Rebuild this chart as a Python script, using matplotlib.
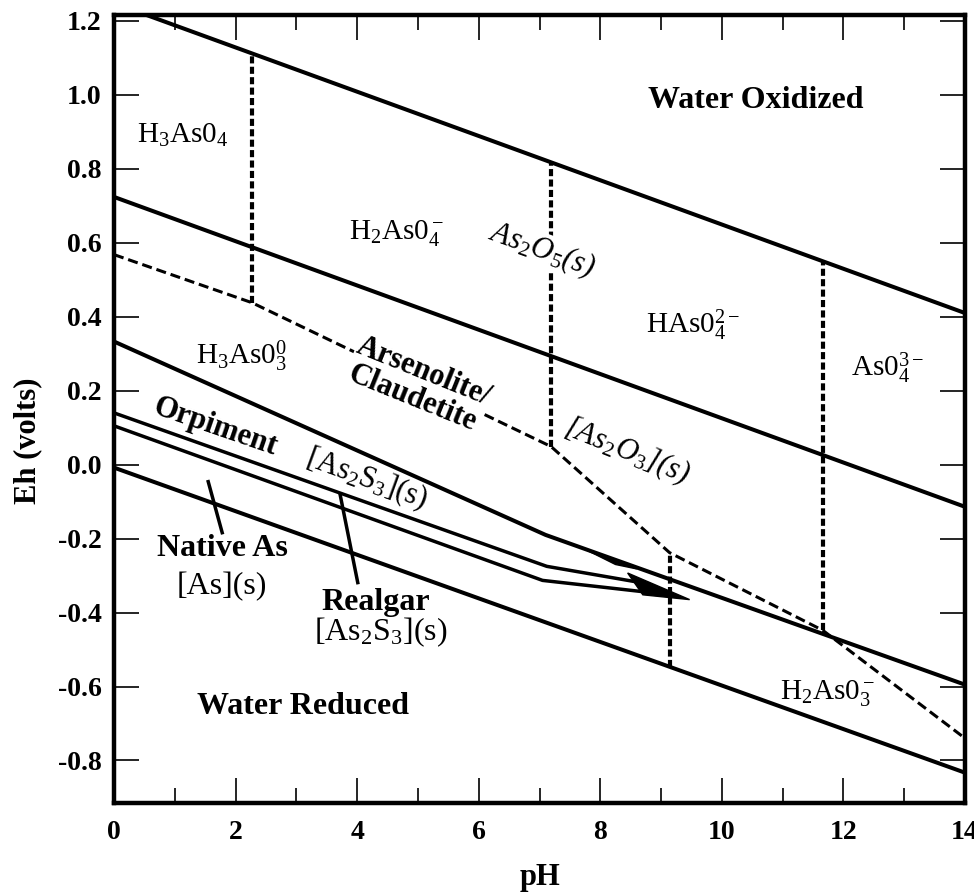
import matplotlib
matplotlib.use('Agg')
import matplotlib.pyplot as plt

plt.rcParams['font.family'] = ['Liberation Serif', 'DejaVu Serif']
plt.rcParams['mathtext.fontset'] = 'custom'
plt.rcParams['mathtext.rm'] = 'Liberation Serif'
plt.rcParams['mathtext.it'] = 'Liberation Serif:italic'
plt.rcParams['mathtext.bf'] = 'Liberation Serif:bold'

# boundary lines (pH, Eh volts)
water_ox_ph = [0, 14]
water_ox_eh = [1.248, 0.41]
h2aso4_ph = [0, 14]
h2aso4_eh = [0.724, -0.114]
h3aso3_ph = [0, 7.1, 14]
h3aso3_eh = [0.333, -0.19, -0.595]
orpiment_ph = [0, 7.12, 8.7]
orpiment_eh = [0.14, -0.275, -0.32]
realgar_ph = [0, 7.05, 9.05]
realgar_eh = [0.105, -0.313, -0.35]
water_red_ph = [0, 14]
water_red_eh = [-0.008, -0.833]

# arsenolite / claudetite boundary (dashed)
arsenolite_ph = [0, 2.27, 7.19, 9.14, 11.66, 14]
arsenolite_eh = [0.568, 0.438, 0.049, -0.238, -0.448, -0.74]

# vertical dashed boundaries
vert_ph = [2.27, 7.19, 9.14, 11.66]
vert_top = [1.112, 0.818, -0.238, 0.55]
vert_bot = [0.438, 0.049, -0.546, -0.448]

# arrow heads / wedges
arrow_ph = [8.45, 9.47, 8.7]
arrow_eh = [-0.293, -0.365, -0.352]
wedge_ph = [7.75, 8.6, 8.25]
wedge_eh = [-0.229, -0.282, -0.27]

# pointer lines
native_ptr_ph = [1.55, 1.78]
native_ptr_eh = [-0.046, -0.184]
realgar_ptr_ph = [3.72, 4.01]
realgar_ptr_eh = [-0.081, -0.319]

y_ticks = [-0.8, -0.6, -0.4, -0.2, 0.0, 0.2, 0.4, 0.6, 0.8, 1.0, 1.2]
y_labels = ['-0.8', '-0.6', '-0.4', '-0.2', '0.0', '0.2', '0.4', '0.6', '0.8', '1.0', '1.2']
x_ticks = [0, 2, 4, 6, 8, 10, 12, 14]
x_minor = [1, 3, 5, 7, 9, 11, 13]

fig = plt.figure(figsize=(9.74, 8.92), dpi=100)
ax = fig.add_axes([114 / 974, 1 - 803 / 892, (965 - 114) / 974, (803 - 15) / 892])

solid = dict(color='black', lw=2.9, solid_capstyle='butt', solid_joinstyle='miter')
ax.plot(water_ox_ph, water_ox_eh, **solid)
ax.plot(h2aso4_ph, h2aso4_eh, **solid)
ax.plot(h3aso3_ph, h3aso3_eh, **solid)
ax.plot(water_red_ph, water_red_eh, **solid)
ax.plot(orpiment_ph, orpiment_eh, color='black', lw=2.5)
ax.plot(realgar_ph, realgar_eh, color='black', lw=2.5)
ax.fill(arrow_ph, arrow_eh, color='black', lw=1)
ax.fill(wedge_ph, wedge_eh, color='black', lw=1)
ax.plot(native_ptr_ph, native_ptr_eh, color='black', lw=2.5)
ax.plot(realgar_ptr_ph, realgar_ptr_eh, color='black', lw=2.5)

ax.plot(arsenolite_ph, arsenolite_eh, color='black', lw=2.2, linestyle=(0, (3.3, 1.6)))
for p, t, b in zip(vert_ph, vert_top, vert_bot):
    ax.plot([p, p], [b, t], color='black', lw=3, linestyle=(0, (1.7, 0.8)))

ax.set_xlim(0, 14)
ax.set_ylim(-0.915, 1.216)

# labels
reg = dict(fontsize=21, color='black', zorder=5)
ax.text(0.38, 0.89, r'H$_3$As0$_4$', ha='left', va='center', **reg)
ax.text(4.64, 0.627, r'H$_2$As0$_4^-$', ha='center', va='center', **reg)
ax.text(9.52, 0.378, r'HAs0$_4^{2-}$', ha='center', va='center', **reg)
ax.text(12.73, 0.262, r'As0$_4^{3-}$', ha='center', va='center', **reg)
ax.text(2.09, 0.292, r'H$_3$As0$_3^0$', ha='center', va='center', **reg)
ax.text(11.73, -0.617, r'H$_2$As0$_3^-$', ha='center', va='center', **reg)

ax.text(7.04, 0.58, r'As$_{\mathit{2}}$O$_{\mathit{5}}$(s)', style='italic', rotation=-20,
        ha='center', va='center', fontsize=22, zorder=5,
        bbox=dict(facecolor='white', edgecolor='none', pad=0.5))
ax.text(8.44, 0.035, r'[As$_{\mathit{2}}$O$_{\mathit{3}}$](s)', style='italic', rotation=-22,
        ha='center', va='center', fontsize=22, zorder=5)

ax.text(5.0, 0.215, 'Arsenolite/\nClaudetite', rotation=-22, rotation_mode='anchor',
        ha='center', va='center', fontsize=22, fontweight='bold', linespacing=0.95, zorder=5,
        bbox=dict(facecolor='white', edgecolor='none', pad=0.5))
ax.text(1.66, 0.1, 'Orpiment', rotation=-19, ha='center', va='center',
        fontsize=22, fontweight='bold', zorder=5)
ax.text(4.16, -0.04, r'[As$_2$S$_3$](s)', rotation=-20, ha='center', va='center',
        fontsize=22, zorder=5)

ax.text(10.56, 0.986, 'Water Oxidized', ha='center', va='center', fontsize=23, fontweight='bold')
ax.text(3.11, -0.654, 'Water Reduced', ha='center', va='center', fontsize=23, fontweight='bold')
ax.text(1.78, -0.227, 'Native As', ha='center', va='center', fontsize=23, fontweight='bold')
ax.text(1.78, -0.33, '[As](s)', ha='center', va='center', fontsize=23)
ax.text(4.3, -0.373, 'Realgar', ha='center', va='center', fontsize=23, fontweight='bold')
ax.text(4.39, -0.454, r'[As$_2$S$_3$](s)', ha='center', va='center', fontsize=23)

# axes styling
ax.set_xticks(x_ticks)
ax.set_xticks(x_minor, minor=True)
ax.set_xticklabels([str(v) for v in x_ticks])
ax.set_yticks(y_ticks)
ax.set_yticklabels(y_labels)
ax.tick_params(which='both', direction='in', top=True, right=True, width=1.2,
               labelsize=20)
ax.tick_params(which='major', length=18)
ax.tick_params(which='minor', length=11)
ax.tick_params(axis='y', pad=9)
ax.tick_params(axis='x', pad=12)
for lab in ax.get_xticklabels() + ax.get_yticklabels():
    lab.set_fontweight('bold')
for s in ax.spines.values():
    s.set_linewidth(3.2)

ax.set_xlabel('pH', fontsize=22, fontweight='bold')
ax.xaxis.set_label_coords(0.5, -(877 - 803) / 788)
ax.xaxis.label.set_va('center')
ax.set_ylabel('Eh (volts)', fontsize=22, fontweight='bold')
ax.yaxis.set_label_coords(-0.101, 0.46)
ax.yaxis.label.set_va('center')

fig.savefig('out.png', dpi=100)
